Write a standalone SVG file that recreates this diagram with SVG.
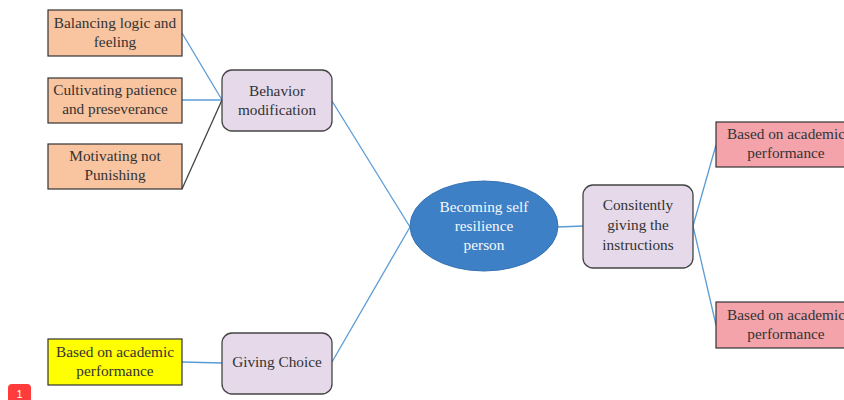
<svg xmlns="http://www.w3.org/2000/svg" width="844" height="400" viewBox="0 0 844 400">
<style>
.t{font-family:"Liberation Serif","DejaVu Serif",serif;font-size:15.3px;fill:#333;text-anchor:middle}
.w{fill:#f4f8fc}
.peach{fill:#f9c4a0;stroke:#333;stroke-width:1.2}
.pink{fill:#f4a3ab;stroke:#333;stroke-width:1.2}
.yel{fill:#ffff00;stroke:#333;stroke-width:1.2}
.lav{fill:#e5d9ea;stroke:#444;stroke-width:1.3}
.c{stroke:#5b9bd5;stroke-width:1.3;fill:none}
.cd{stroke:#444;stroke-width:1.3;fill:none}
</style>
<rect width="844" height="400" fill="#fff"/>
<g id="connectors">
<line class="c" x1="182" y1="33" x2="222" y2="100"/>
<line class="c" x1="182" y1="100" x2="222" y2="100"/>
<line class="cd" x1="182" y1="189" x2="222" y2="100"/>
<line class="c" x1="332" y1="101" x2="410" y2="227"/>
<line class="c" x1="332" y1="362" x2="410" y2="227"/>
<line class="c" x1="182" y1="362" x2="222" y2="363"/>
<line class="c" x1="558" y1="227" x2="583" y2="226"/>
<line class="c" x1="693" y1="226" x2="716" y2="145"/>
<line class="c" x1="693" y1="226" x2="716" y2="325"/>
</g>
<g id="n-balancing">
<rect class="peach" x="48" y="10" width="134" height="46"/>
<text class="t" x="115" y="28">Balancing logic and</text>
<text class="t" x="115" y="47">feeling</text>
</g>
<g id="n-cultivating">
<rect class="peach" x="48" y="78" width="134" height="45"/>
<text class="t" x="115" y="95">Cultivating patience</text>
<text class="t" x="115" y="114">and preseverance</text>
</g>
<g id="n-motivating">
<rect class="peach" x="48" y="144" width="134" height="45"/>
<text class="t" x="115" y="161">Motivating not</text>
<text class="t" x="115" y="180">Punishing</text>
</g>
<g id="n-behavior">
<rect class="lav" x="222" y="70" width="110" height="61" rx="10"/>
<text class="t" x="277" y="96">Behavior</text>
<text class="t" x="277" y="115">modification</text>
</g>
<g id="n-center">
<ellipse cx="484" cy="226" rx="74" ry="45" fill="#3e80c6" stroke="#3572b4" stroke-width="1"/>
<text class="t w" x="484" y="212">Becoming self</text>
<text class="t w" x="484" y="231">resilience</text>
<text class="t w" x="484" y="250">person</text>
</g>
<g id="n-consitently">
<rect class="lav" x="583" y="185" width="110" height="83" rx="10"/>
<text class="t" x="638" y="210">Consitently</text>
<text class="t" x="638" y="230">giving the</text>
<text class="t" x="638" y="250">instructions</text>
</g>
<g id="n-pink1">
<rect class="pink" x="716" y="122" width="140" height="45"/>
<text class="t" x="786" y="139">Based on academic</text>
<text class="t" x="786" y="158">performance</text>
</g>
<g id="n-pink2">
<rect class="pink" x="716" y="302" width="140" height="46"/>
<text class="t" x="786" y="320">Based on academic</text>
<text class="t" x="786" y="339">performance</text>
</g>
<g id="n-giving">
<rect class="lav" x="222" y="333" width="110" height="61" rx="10"/>
<text class="t" x="277" y="367">Giving Choice</text>
</g>
<g id="n-yellow">
<rect class="yel" x="48" y="339" width="134" height="46"/>
<text class="t" x="115" y="357">Based on academic</text>
<text class="t" x="115" y="376">performance</text>
</g>
<g id="badge">
<rect x="8" y="384" width="23" height="22" rx="4" fill="#ff3b3b"/>
<text x="19.5" y="398" font-family="Liberation Sans,sans-serif" font-size="11" fill="#fff" text-anchor="middle">1</text>
</g>
</svg>
